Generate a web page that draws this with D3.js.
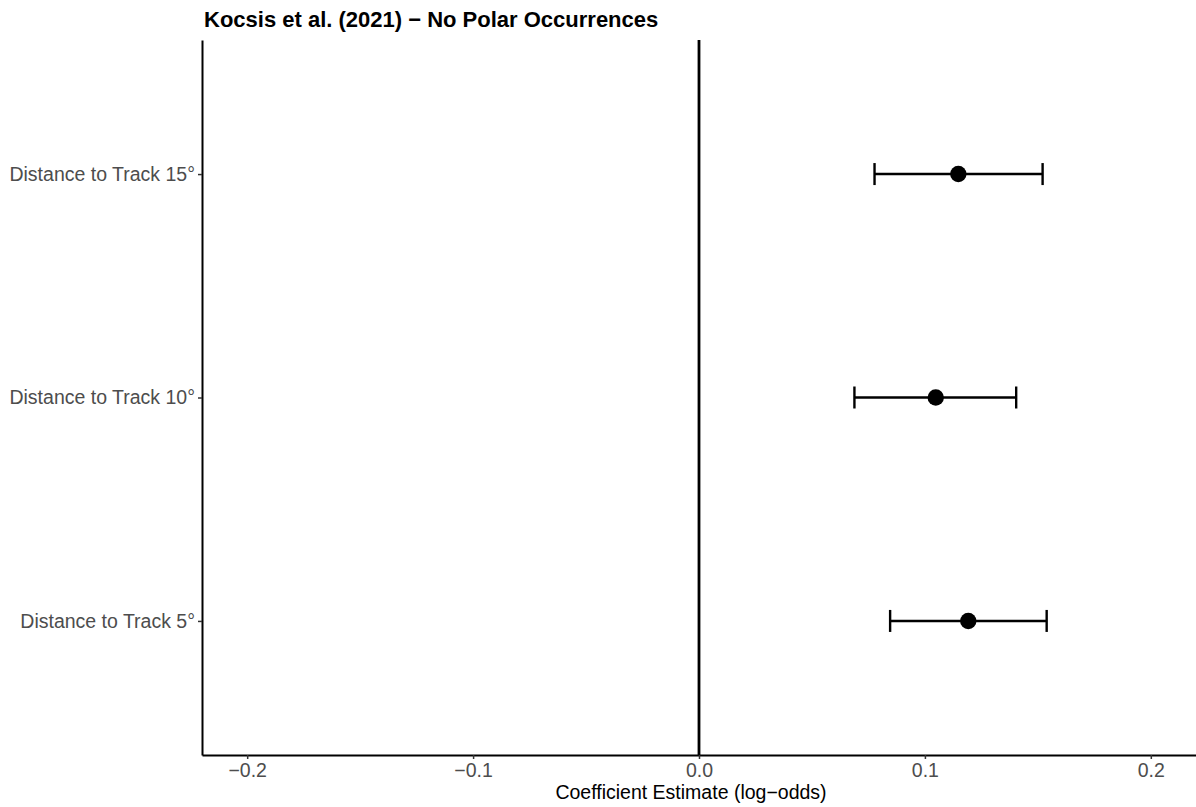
<!DOCTYPE html>
<meta charset="utf-8">
<head>
    <script src="https://d3js.org/d3.v7.min.js"></script>
    <title>Kocsis et al. (2021) - No Polar Occurrences</title>
    <style>
        body { margin: 0; background: #fff; }
        text { font-family: "Liberation Sans", Arial, sans-serif; }
    </style>
</head>
<body>
    <svg width="1196" height="807"></svg>
    <script>
        // data
        var terms = ["Distance to Track 5°", "Distance to Track 10°", "Distance to Track 15°"];
        var estimates = [0.1192, 0.1048, 0.1148];
        var lower = [0.0846, 0.0688, 0.0777];
        var upper = [0.1539, 0.1404, 0.1521];
        var xTicks = [-0.2, -0.1, 0.0, 0.1, 0.2];

        var svg = d3.select("svg"),
            width = +svg.attr("width"),
            height = +svg.attr("height");

        var margin = { top: 40, right: 0, bottom: 52, left: 202 };
        var plotW = width - margin.left - margin.right,
            plotH = height - margin.top - margin.bottom;

        var g = svg.append("g")
            .attr("transform", "translate(" + margin.left + "," + margin.top + ")");

        // limits -0.2..0.2 with ggplot 5% expansion
        var x = d3.scaleLinear().domain([-0.22, 0.22]).range([0, plotW]);

        // discrete axis, 0.6 expansion on each side
        var yPos = d3.scaleLinear().domain([0.4, terms.length + 0.6]).range([plotH, 0]);
        var y = function (t) { return yPos(terms.indexOf(t) + 1); };

        // zero line
        g.append("line")
            .attr("x1", x(0)).attr("x2", x(0))
            .attr("y1", 0).attr("y2", plotH)
            .attr("stroke", "black")
            .attr("stroke-width", 2.8);

        // axes
        var xAxis = d3.axisBottom(x)
            .tickValues(xTicks)
            .tickSizeInner(4)
            .tickSizeOuter(0)
            .tickPadding(4)
            .tickFormat(function (d) { return d3.format(".1f")(d).replace("-", "\u2212"); });

        var gx = g.append("g")
            .attr("transform", "translate(0," + plotH + ")")
            .call(xAxis);
        gx.select(".domain").attr("stroke", "black").attr("stroke-width", 2);
        gx.selectAll(".tick line").attr("stroke", "#333").attr("stroke-width", 1.5);
        gx.selectAll(".tick text")
            .attr("fill", "#4d4d4d")
            .style("font-size", "19.5px");

        var yAxis = d3.axisLeft(yPos)
            .tickValues(d3.range(1, terms.length + 1))
            .tickSizeInner(4)
            .tickSizeOuter(0)
            .tickPadding(3)
            .tickFormat(function (d) { return terms[d - 1]; });

        var gy = g.append("g").call(yAxis);
        gy.select(".domain").attr("stroke", "black").attr("stroke-width", 2);
        gy.selectAll(".tick line").attr("stroke", "#333").attr("stroke-width", 1.5);
        gy.selectAll(".tick text")
            .attr("fill", "#4d4d4d")
            .style("font-size", "19.5px");

        // error bars
        var rows = terms.map(function (t, i) {
            return { term: t, est: estimates[i], lo: lower[i], hi: upper[i] };
        });

        var bars = g.append("g").selectAll("g")
            .data(rows)
            .enter().append("g");

        bars.append("line")
            .attr("x1", function (d) { return x(d.lo); })
            .attr("x2", function (d) { return x(d.hi); })
            .attr("y1", function (d) { return y(d.term); })
            .attr("y2", function (d) { return y(d.term); })
            .attr("stroke", "black")
            .attr("stroke-width", 2.4);

        ["lo", "hi"].forEach(function (k) {
            bars.append("line")
                .attr("x1", function (d) { return x(d[k]); })
                .attr("x2", function (d) { return x(d[k]); })
                .attr("y1", function (d) { return y(d.term) - 11; })
                .attr("y2", function (d) { return y(d.term) + 11; })
                .attr("stroke", "black")
                .attr("stroke-width", 2.4);
        });

        bars.append("circle")
            .attr("cx", function (d) { return x(d.est); })
            .attr("cy", function (d) { return y(d.term); })
            .attr("r", 8.2)
            .attr("fill", "black");

        // titles
        svg.append("text")
            .attr("x", margin.left + 2)
            .attr("y", 26.5)
            .style("font-size", "22px")
            .style("font-weight", "bold")
            .attr("fill", "black")
            .text("Kocsis et al. (2021) \u2212 No Polar Occurrences");

        svg.append("text")
            .attr("x", 691)
            .attr("y", 799)
            .attr("text-anchor", "middle")
            .style("font-size", "19.5px")
            .attr("fill", "black")
            .text("Coefficient Estimate (log\u2212odds)");
    </script>
</body>
